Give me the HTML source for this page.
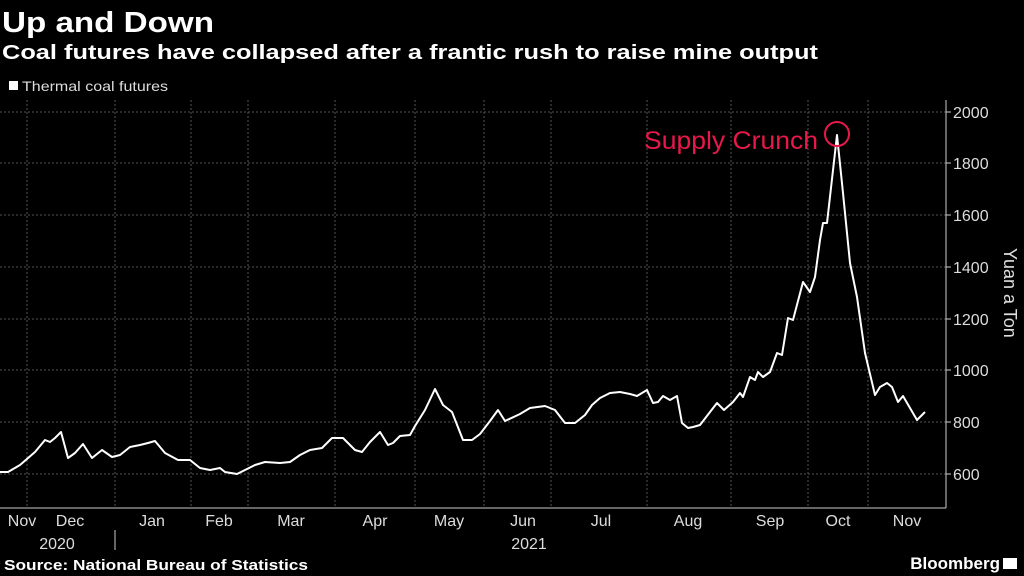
<!DOCTYPE html>
<html><head><meta charset="utf-8"><style>
html,body{margin:0;padding:0;background:#000;}
svg{display:block;font-family:"Liberation Sans",sans-serif;}
</style></head><body>
<svg width="1024" height="576" viewBox="0 0 1024 576" xmlns="http://www.w3.org/2000/svg">
<rect width="1024" height="576" fill="#000"/>
<text x="2" y="32" fill="#fff" font-size="29" font-weight="bold" textLength="212" lengthAdjust="spacingAndGlyphs">Up and Down</text>
<text x="2" y="59" fill="#fff" font-size="20" font-weight="bold" textLength="816" lengthAdjust="spacingAndGlyphs">Coal futures have collapsed after a frantic rush to raise mine output</text>
<rect x="9" y="81" width="9" height="9" fill="#fff"/>
<text x="22" y="91" fill="#ddd" font-size="14" textLength="146" lengthAdjust="spacingAndGlyphs">Thermal coal futures</text>
<g stroke="#555" stroke-width="1" stroke-dasharray="2,2">
<line x1="0" y1="112" x2="946" y2="112"/><line x1="0" y1="163" x2="946" y2="163"/><line x1="0" y1="215" x2="946" y2="215"/><line x1="0" y1="267" x2="946" y2="267"/><line x1="0" y1="319" x2="946" y2="319"/><line x1="0" y1="370" x2="946" y2="370"/><line x1="0" y1="422" x2="946" y2="422"/><line x1="0" y1="474" x2="946" y2="474"/>
<line x1="27" y1="100" x2="27" y2="508"/><line x1="115" y1="100" x2="115" y2="508"/><line x1="191" y1="100" x2="191" y2="508"/><line x1="248" y1="100" x2="248" y2="508"/><line x1="335" y1="100" x2="335" y2="508"/><line x1="415" y1="100" x2="415" y2="508"/><line x1="484" y1="100" x2="484" y2="508"/><line x1="551" y1="100" x2="551" y2="508"/><line x1="647" y1="100" x2="647" y2="508"/><line x1="731" y1="100" x2="731" y2="508"/><line x1="808" y1="100" x2="808" y2="508"/><line x1="868" y1="100" x2="868" y2="508"/>
</g>
<g stroke="#ccc" stroke-width="1">
<line x1="0" y1="508" x2="946" y2="508"/>
<line x1="946" y1="100" x2="946" y2="508"/>
<line x1="115" y1="530" x2="115" y2="550"/>
</g>
<g stroke="#ccc"><line x1="946" y1="112" x2="951" y2="112"/><line x1="946" y1="163" x2="951" y2="163"/><line x1="946" y1="215" x2="951" y2="215"/><line x1="946" y1="267" x2="951" y2="267"/><line x1="946" y1="319" x2="951" y2="319"/><line x1="946" y1="370" x2="951" y2="370"/><line x1="946" y1="422" x2="951" y2="422"/><line x1="946" y1="474" x2="951" y2="474"/></g>
<g fill="#ddd" font-size="16">
<text x="953" y="118">2000</text><text x="953" y="169">1800</text><text x="953" y="221">1600</text><text x="953" y="273">1400</text><text x="953" y="325">1200</text><text x="953" y="376">1000</text><text x="953" y="428">800</text><text x="953" y="480">600</text>
</g>
<text transform="translate(1004,248) rotate(90)" fill="#ddd" font-size="18">Yuan a Ton</text>
<g fill="#ddd" font-size="16" text-anchor="middle">
<text x="22" y="526">Nov</text><text x="70" y="526">Dec</text><text x="152" y="526">Jan</text><text x="219" y="526">Feb</text><text x="291" y="526">Mar</text><text x="375" y="526">Apr</text><text x="449" y="526">May</text><text x="523" y="526">Jun</text><text x="601" y="526">Jul</text><text x="688" y="526">Aug</text><text x="770" y="526">Sep</text><text x="838" y="526">Oct</text><text x="907" y="526">Nov</text>
<text x="57" y="549">2020</text><text x="529" y="549">2021</text>
</g>
<text x="4" y="570" fill="#fff" font-size="15" font-weight="bold" textLength="304" lengthAdjust="spacingAndGlyphs">Source: National Bureau of Statistics</text>
<text x="1000" y="569" fill="#fff" font-size="17" font-weight="bold" text-anchor="end">Bloomberg</text>
<rect x="1003" y="558" width="14" height="11" fill="#fff"/>
<polyline fill="none" stroke="#fff" stroke-width="2" stroke-linejoin="round" points="0,472 8,472 20,465 35,452 45,440 50,442 55,438 61,432 68,458 75,453 83,444 92,458 102,450 112,457 120,455 130,447 140,445 148,443 155,441 165,453 178,460 190,460 200,468 210,470 220,468 225,472 237,474 245,470 255,465 265,462 280,463 290,462 300,455 310,450 322,448 332,438 343,438 355,450 362,452 370,442 380,432 388,445 393,443 400,436 410,435 415,426 425,410 435,389 443,405 452,412 463,440 472,440 480,434 490,421 498,410 505,421 520,414 530,408 545,406 555,410 565,423 575,423 585,415 592,405 600,398 610,393 620,392 630,394 637,396 647,390 653,403 658,402 663,396 670,400 677,396 682,423 688,428 693,427 700,425 710,412 717,403 724,410 733,402 740,393 743,397 750,377 755,380 758,372 763,377 770,372 777,353 782,355 788,318 793,320 803,282 810,292 815,277 820,240 823,223 827,223 837,135 843,193 850,263 857,297 865,353 875,395 880,387 887,383 892,387 898,402 903,396 917,420 925,412"/>
<circle cx="837" cy="134" r="12" fill="none" stroke="#e8194a" stroke-width="2"/>
<text x="818" y="149" fill="#e8194a" font-size="25" text-anchor="end" textLength="174" lengthAdjust="spacingAndGlyphs">Supply Crunch</text>
</svg>
</body></html>
